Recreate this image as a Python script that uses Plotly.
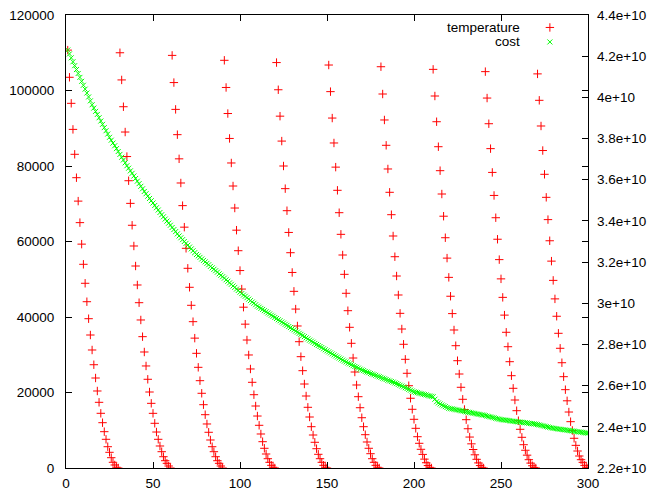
import plotly.graph_objects as go

# ---- data ----
iteration = list(range(1, 301))

temp_c1 = [110700, 103500, 96600, 89700, 83100, 76900, 70700, 65000, 59300, 53960, 48930, 44050, 39550, 35230, 31260, 27360, 23840, 20400, 17400, 14490, 12000, 9620, 7600, 5640, 4160, 2730, 1510, 800, 190, 0]
temp_c2 = [110000, 102800, 95700, 89000, 82500, 76100, 70100, 64300, 58810, 53510, 48480, 43790, 39210, 34790, 30730, 27030, 23500, 20130, 17130, 14480, 11840, 9530, 7600, 5830, 4320, 2990, 1930, 1240, 530, 0]
temp_c3 = [109300, 102100, 95000, 88300, 81900, 75500, 69500, 63800, 58200, 52900, 47870, 43100, 38760, 34400, 30380, 26670, 23130, 19790, 16770, 14120, 11660, 9460, 7420, 5640, 4320, 2990, 1930, 1240, 530, 0]
temp_c4 = [108000, 100800, 93900, 87300, 80800, 74700, 68870, 63000, 57560, 52300, 47400, 42600, 38100, 33900, 29940, 26230, 22700, 19420, 16420, 13770, 11310, 9010, 6970, 5220, 3710, 2460, 1510, 710, 190, 0]
temp_c5 = [107400, 100200, 93200, 86600, 80000, 74000, 68160, 62400, 57030, 51800, 46800, 42100, 37620, 33460, 29490, 25780, 22250, 19070, 16080, 13510, 10940, 8740, 6810, 5110, 3630, 2460, 1510, 710, 190, 0]
temp_c6 = [106750, 99700, 92700, 86100, 79700, 73560, 67630, 61900, 56420, 51300, 46280, 41670, 37270, 33030, 29140, 25430, 21990, 18890, 15970, 13320, 10940, 8820, 6890, 5220, 3790, 2460, 1510, 710, 190, 0]
temp_c7 = [106300, 99070, 92190, 85480, 79210, 73030, 67100, 61460, 55970, 50860, 45830, 40970, 36820, 32770, 28790, 25090, 21800, 18470, 15550, 12900, 10510, 8290, 6540, 4950, 3600, 2350, 1400, 650, 180, 0]
temp_c8 = [105600, 98540, 91730, 85110, 78760, 72580, 66700, 61000, 55600, 50500, 45500, 40900, 36560, 32400, 28420, 24900, 21380, 18200, 15500, 12800, 10400, 8200, 6400, 4900, 3500, 2300, 1350, 650, 180, 0]
temp_c9 = [105000, 98000, 91200, 84600, 78300, 72200, 66300, 60600, 55200, 50100, 45200, 40500, 35950, 32130, 28160, 24450, 21110, 18010, 15180, 12530, 10250, 8130, 6170, 4700, 3400, 2200, 1300, 600, 150, 0]
temp_c10 = [104400, 97400, 90600, 84100, 77800, 71700, 65800, 60200, 54800, 49700, 44800, 40200, 35680, 31710, 27890, 24190, 20750, 17800, 14830, 12270, 9950, 7870, 6000, 4500, 3180, 2200, 1500, 700, 200, 0]

temperature = (temp_c1 + temp_c2 + temp_c3 + temp_c4 + temp_c5 +
               temp_c6 + temp_c7 + temp_c8 + temp_c9 + temp_c10)

# cost in units of 1e10
cost_e10 = [
    4.230, 4.211, 4.192, 4.173, 4.154, 4.135, 4.116, 4.097, 4.078, 4.059,
    4.040, 4.021, 4.002, 3.983, 3.964, 3.948, 3.932, 3.917, 3.901, 3.885,
    3.869, 3.853, 3.838, 3.822, 3.806, 3.792, 3.778, 3.765, 3.751, 3.737,
    3.723, 3.709, 3.696, 3.682, 3.668, 3.656, 3.643, 3.631, 3.618, 3.606,
    3.593, 3.581, 3.568, 3.556, 3.543, 3.532, 3.520, 3.509, 3.498, 3.487,
    3.475, 3.464, 3.453, 3.441, 3.430, 3.420, 3.409, 3.399, 3.389, 3.379,
    3.368, 3.358, 3.348, 3.337, 3.327, 3.318, 3.309, 3.300, 3.291, 3.282,
    3.273, 3.264, 3.255, 3.246, 3.237, 3.230, 3.223, 3.215, 3.208, 3.201,
    3.194, 3.187, 3.179, 3.172, 3.165, 3.158, 3.151, 3.143, 3.136, 3.129,
    3.122, 3.114, 3.107, 3.099, 3.092, 3.084, 3.077, 3.069, 3.062, 3.054,
    3.047, 3.040, 3.034, 3.027, 3.020, 3.013, 3.006, 3.000, 2.993, 2.986,
    2.981, 2.975, 2.970, 2.964, 2.959, 2.953, 2.948, 2.942, 2.937, 2.931,
    2.926, 2.920, 2.915, 2.909, 2.904, 2.898, 2.893, 2.887, 2.882, 2.876,
    2.871, 2.865, 2.860, 2.854, 2.849, 2.843, 2.838, 2.832, 2.827, 2.821,
    2.816, 2.811, 2.805, 2.800, 2.795, 2.790, 2.785, 2.779, 2.774, 2.769,
    2.764, 2.759, 2.754, 2.749, 2.744, 2.739, 2.734, 2.729, 2.724, 2.719,
    2.715, 2.710, 2.706, 2.702, 2.697, 2.693, 2.689, 2.685, 2.680, 2.676,
    2.673, 2.669, 2.666, 2.663, 2.659, 2.656, 2.653, 2.650, 2.646, 2.643,
    2.640, 2.636, 2.633, 2.630, 2.626, 2.623, 2.620, 2.617, 2.613, 2.610,
    2.606, 2.602, 2.598, 2.594, 2.590, 2.586, 2.582, 2.578, 2.574, 2.570,
    2.568, 2.566, 2.563, 2.561, 2.559, 2.557, 2.555, 2.552, 2.550, 2.548,
    2.546, 2.534, 2.522, 2.516, 2.511, 2.506, 2.502, 2.498, 2.494, 2.490,
    2.488, 2.487, 2.485, 2.483, 2.482, 2.480, 2.478, 2.477, 2.475, 2.473,
    2.471, 2.470, 2.468, 2.466, 2.465, 2.463, 2.461, 2.460, 2.458, 2.457,
    2.455, 2.452, 2.450, 2.448, 2.446, 2.444, 2.441, 2.439, 2.437, 2.435,
    2.434, 2.433, 2.432, 2.431, 2.430, 2.428, 2.427, 2.426, 2.425, 2.424,
    2.423, 2.422, 2.421, 2.420, 2.419, 2.417, 2.416, 2.415, 2.414, 2.413,
    2.411, 2.409, 2.407, 2.405, 2.403, 2.401, 2.399, 2.397, 2.395, 2.393,
    2.392, 2.391, 2.389, 2.388, 2.387, 2.386, 2.385, 2.383, 2.382, 2.381,
    2.380, 2.379, 2.377, 2.376, 2.375, 2.374, 2.373, 2.371, 2.370, 2.369,
]
cost = [c * 1e10 for c in cost_e10]

x_ticks = [0, 50, 100, 150, 200, 250, 300]
x_labels = ["0", "50", "100", "150", "200", "250", "300"]
y_ticks = [0, 20000, 40000, 60000, 80000, 100000, 120000]
y_labels = ["0", "20000", "40000", "60000", "80000", "100000", "120000"]
y2_ticks = [2.2e10, 2.4e10, 2.6e10, 2.8e10, 3.0e10, 3.2e10, 3.4e10, 3.6e10, 3.8e10, 4.0e10, 4.2e10, 4.4e10]
y2_labels = ["2.2e+10", "2.4e+10", "2.6e+10", "2.8e+10", "3e+10", "3.2e+10",
             "3.4e+10", "3.6e+10", "3.8e+10", "4e+10", "4.2e+10", "4.4e+10"]
series_names = ["temperature", "cost"]

RED = "#ff0000"
GREEN = "#00ff00"
FONT = dict(family="Liberation Sans, Arial, sans-serif", size=13.5, color="black")

fig = go.Figure()
fig.add_trace(go.Scatter(
    x=iteration, y=temperature, mode="markers", name=series_names[0],
    marker=dict(symbol="cross-thin", size=6, color=RED, line=dict(width=1, color=RED)),
    xaxis="x", yaxis="y", showlegend=False))
fig.add_trace(go.Scatter(
    x=iteration, y=cost, mode="markers", name=series_names[1],
    marker=dict(symbol="x-thin", size=5, color=GREEN, line=dict(width=1, color=GREEN)),
    xaxis="x", yaxis="y2", showlegend=False))

# legend keys (gnuplot style: text then sample)
fig.add_trace(go.Scatter(
    x=[0.927], y=[0.9725], mode="markers", xaxis="x3", yaxis="y3",
    marker=dict(symbol="cross-thin", size=6, color=RED, line=dict(width=1, color=RED)),
    showlegend=False, hoverinfo="skip"))
fig.add_trace(go.Scatter(
    x=[0.927], y=[0.9405], mode="markers", xaxis="x3", yaxis="y3",
    marker=dict(symbol="x-thin", size=5, color=GREEN, line=dict(width=1, color=GREEN)),
    showlegend=False, hoverinfo="skip"))

axis_common = dict(showgrid=False, zeroline=False, ticks="inside", ticklen=6,
                   tickwidth=1, tickcolor="black", tickfont=FONT, automargin=False)

fig.update_layout(
    width=650, height=492,
    margin=dict(l=66, r=62, t=15, b=24),
    paper_bgcolor="white", plot_bgcolor="white",
    showlegend=False,
    xaxis=dict(range=[0, 300], tickvals=x_ticks, ticktext=x_labels, showline=True,
               linecolor="black", linewidth=1, mirror="ticks", ticklabelstandoff=3,
               **axis_common),
    yaxis=dict(range=[0, 120000], tickvals=y_ticks, ticktext=y_labels, showline=True,
               linecolor="black", linewidth=1, mirror="ticks", ticklabelstandoff=8,
               **axis_common),
    yaxis2=dict(range=[2.2e10, 4.4e10], tickvals=y2_ticks, ticktext=y2_labels,
                overlaying="y", side="right", showline=False,
                ticklabelstandoff=8, **axis_common),
    xaxis3=dict(overlaying="x", range=[0, 1], visible=False),
    yaxis3=dict(overlaying="y", range=[0, 1], visible=False),
    annotations=[
        dict(text=series_names[0], xref="paper", yref="paper", x=0.8736, y=0.9725,
             xanchor="right", yanchor="middle", showarrow=False, font=FONT),
        dict(text=series_names[1], xref="paper", yref="paper", x=0.8736, y=0.9405,
             xanchor="right", yanchor="middle", showarrow=False, font=FONT),
    ],
)

fig.write_html("out.html",
               config={"displayModeBar": False},
               post_script="document.body.style.margin='0';document.body.style.padding='0';")
